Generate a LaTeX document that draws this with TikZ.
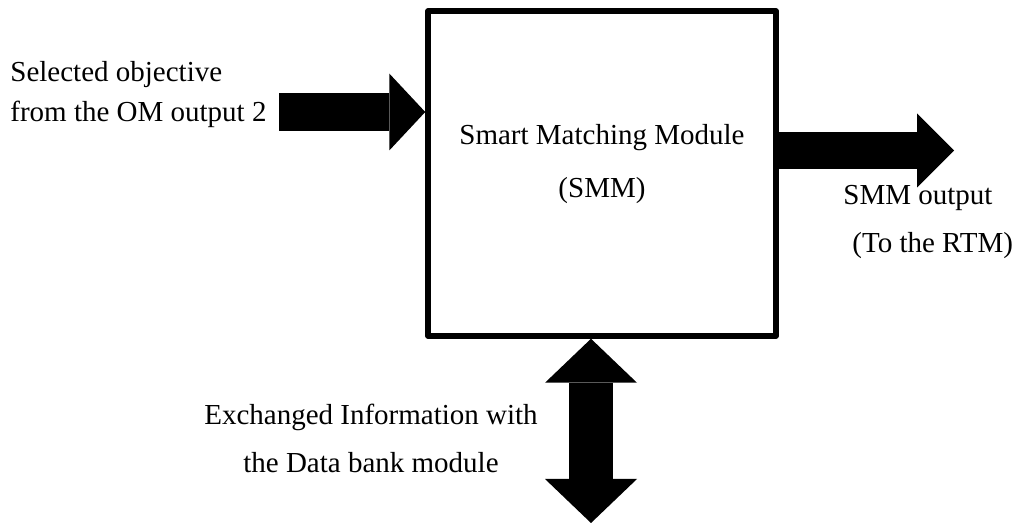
\documentclass[tikz,border=0pt]{standalone}
\usepackage{fontspec}
\setmainfont{Liberation Serif}
\usetikzlibrary{arrows.meta}
\tikzset{
  modbox/.style={draw, line width=2.75pt, line join=round, inner sep=0pt,
    minimum width=174pt, minimum height=162.5pt},
  lbl/.style={inner sep=0pt, font=\fontsize{14.5pt}{#1}\selectfont},
  fatarrow/.style={line width=19pt,
    -{Triangle[length=18pt,width=38.5pt,line width=0pt]}},
  fatarrowout/.style={line width=18.5pt,
    -{Triangle[length=18.5pt,width=37pt,line width=0pt]}},
  fatdouble/.style={line width=22pt,
    {Triangle[length=22pt,width=46pt,line width=0pt]}-{Triangle[length=22pt,width=46pt,line width=0pt]}}
}

\begin{document}
\begin{tikzpicture}[x=0.5pt,y=-0.5pt]
  \useasboundingbox (0,0) rectangle (1019,523);

  %% the module
  \node[modbox] (smm) at (602,173.5) {};
  \node[lbl=26.5pt, anchor=base, align=center] (smmTxt) at (602,198)
  {Smart Matching Module\\(SMM)};

  %% input from the OM
  \coordinate (selEnd) at (279,112);
  \draw[fatarrow] (selEnd) -- (selEnd -| smm.west);
  \node[lbl=20pt, anchor=base west, align=left] (selTxt) at (10,122)
  {Selected objective\\from the OM output 2};

  %% output to the RTM
  \coordinate (outEnd) at (954,150.5);
  \draw[fatarrowout] (outEnd -| smm.east) -- (outEnd);
  \node[lbl=24pt, anchor=base west, align=left] (outTxt) at (843,253)
  {SMM output\\\hspace*{4.5pt}(To the RTM)};

  %% data bank exchange
  \coordinate (bankEnd) at (591,523);
  \draw[fatdouble] (bankEnd |- smm.south) -- (bankEnd);
  \node[lbl=24pt, anchor=base, align=center] (bankTxt) at (371,473)
  {Exchanged Information with\\the Data bank module};

\end{tikzpicture}
\end{document}
